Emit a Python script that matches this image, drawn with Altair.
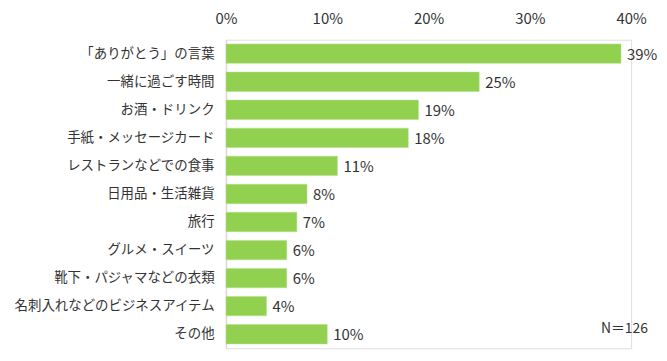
import altair as alt
import pandas as pd

categories = [
    "「ありがとう」の言葉",
    "一緒に過ごす時間",
    "お酒・ドリンク",
    "手紙・メッセージカード",
    "レストランなどでの食事",
    "日用品・生活雑貨",
    "旅行",
    "グルメ・スイーツ",
    "靴下・パジャマなどの衣類",
    "名刺入れなどのビジネスアイテム",
    "その他",
]
values = [39, 25, 19, 18, 11, 8, 7, 6, 6, 4, 10]
note = "N＝126"

df = pd.DataFrame({"cat": categories, "val": values})
df["label"] = df["val"].astype(str) + "%"
df["v"] = df["val"] / 100.0

FONT = "Noto Sans CJK JP"
TXT = "#333333"

x = alt.X("v:Q", scale=alt.Scale(domain=[0, 0.4], nice=False),
          axis=alt.Axis(orient="top", format=".0%", values=[0, 0.1, 0.2, 0.3, 0.4],
                        grid=False, ticks=False, domain=False, labelPadding=13,
                        labelFlush=False, labelOverlap=False,
                        labelFont=FONT, labelFontSize=15, labelColor=TXT, title=None))
y = alt.Y("cat:N", sort=categories,
          scale=alt.Scale(paddingInner=0.31, paddingOuter=0.155),
          axis=alt.Axis(ticks=False, domain=True, domainColor="#d9d9d9", domainWidth=1.5,
                        labelPadding=12, labelFont=FONT, labelFontSize=13.5,
                        labelColor=TXT, title=None, labelLimit=300))

bars = alt.Chart(df).mark_bar(color="#92D050", stroke="#b4df8a", strokeWidth=0.5).encode(x=x, y=y)

labels = alt.Chart(df).mark_text(align="left", baseline="middle", dx=6, dy=1,
                                 font=FONT, fontSize=15, color=TXT).encode(
    x="v:Q", y=alt.Y("cat:N", sort=categories), text="label:N")

ndf = pd.DataFrame({"t": [note]})
ntext = alt.Chart(ndf).mark_text(align="right", baseline="middle", font=FONT,
                                 fontSize=14, color=TXT).encode(
    x=alt.value(424), y=alt.value(291), text="t:N")

chart = alt.layer(bars, labels, ntext).properties(
    width=407, height=310,
    autosize=alt.AutoSizeParams(type="none"),
    padding={"left": 219, "top": 31, "right": 28, "bottom": 12},
).configure_view(stroke=None).configure(background="white")

chart.save("out.html", embed_options={"renderer": "svg", "actions": False})
